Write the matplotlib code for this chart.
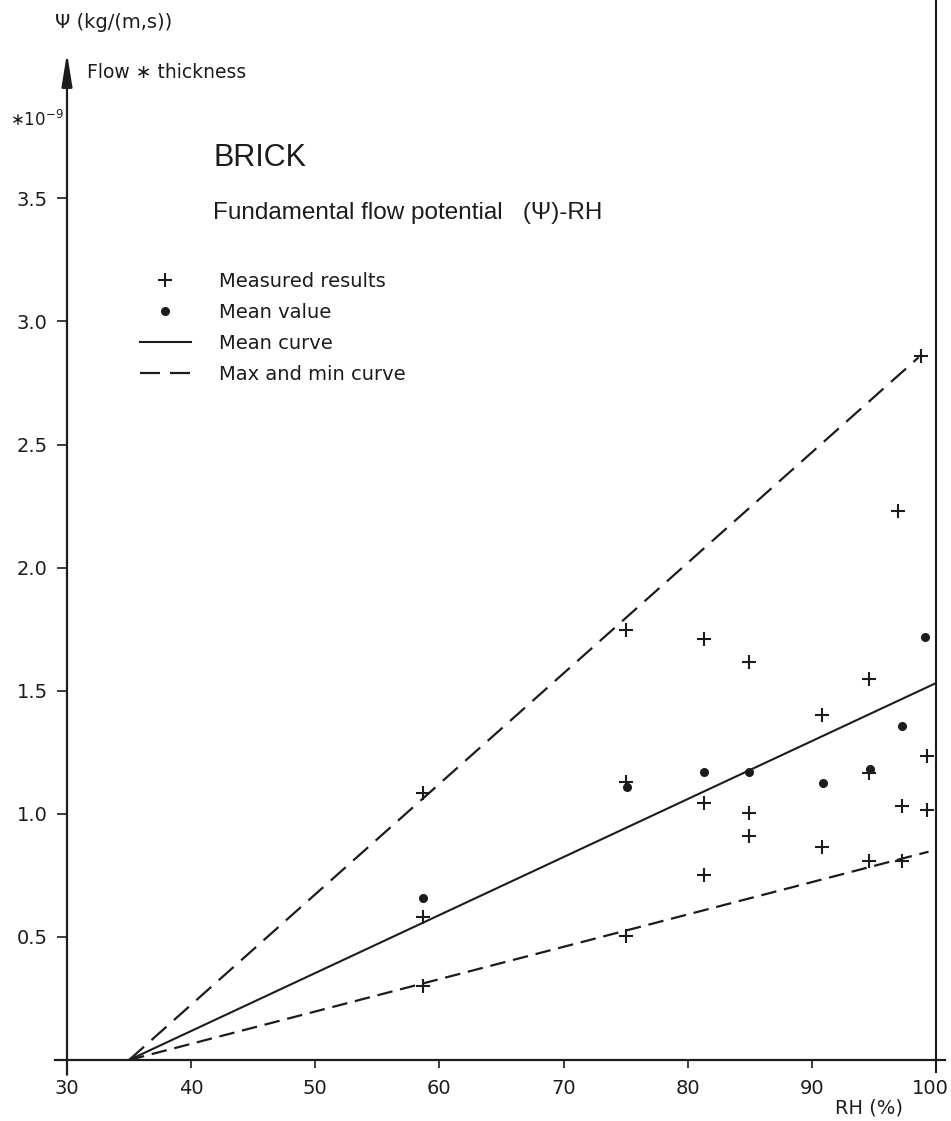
import matplotlib
matplotlib.use("Agg")
import matplotlib.pyplot as plt
from matplotlib.transforms import ScaledTranslation

# measured values (RH %, psi * 1e-9)
meas_rh = [58.7, 58.7, 58.7, 75.0, 75.0, 75.0, 81.3, 81.3, 81.3, 84.9, 84.9, 84.9,
           90.8, 90.8, 94.6, 94.6, 94.6, 96.9, 97.3, 97.3, 98.8, 99.3, 99.3]
meas_psi = [1.083, 0.582, 0.300, 1.747, 1.130, 0.505, 1.709, 1.045, 0.751, 1.615, 1.002, 0.909,
            1.401, 0.864, 1.546, 1.167, 0.808, 2.231, 1.033, 0.808, 2.860, 1.236, 1.017]

# mean values
mean_rh = [58.7, 75.1, 81.3, 84.9, 90.9, 94.7, 97.3, 99.1]
mean_psi = [0.658, 1.110, 1.170, 1.169, 1.126, 1.182, 1.358, 1.717]

# curves
mean_curve_rh = [35, 100]
mean_curve = [0, 1.531]
max_curve_rh = [35, 98.6]
max_curve = [0, 2.854]
min_curve_rh = [35, 99.4]
min_curve = [0, 0.846]

x_ticks = [30, 40, 50, 60, 70, 80, 90, 100]
y_ticks = [0.5, 1.0, 1.5, 2.0, 2.5, 3.0, 3.5]

W, H = 951, 1121
ink = "#1c1c1c"
tech = "DejaVu Sans"
helv = "Liberation Sans"

fig = plt.figure(figsize=(W / 100, H / 100), dpi=100)
fig.patch.set_facecolor("white")

x0, x1 = 67, 936
y_zero = 1060
px_per_unit = 246.2
ax = fig.add_axes([x0 / W, (H - y_zero) / H, (x1 - x0) / W, y_zero / H])
ax.set_xlim(30, 100)
ax.set_ylim(0, y_zero / px_per_unit)
for s in ax.spines.values():
    s.set_visible(False)

# max / min curves
l_max, = ax.plot(max_curve_rh, max_curve, color=ink, lw=1.6, dashes=(9, 4.5),
                 label="Max and min curve")
ax.plot(min_curve_rh, min_curve, color=ink, lw=1.6, dashes=(7, 3.5))
l_mean, = ax.plot(mean_curve_rh, mean_curve, color=ink, lw=1.5, label="Mean curve")

l_meas, = ax.plot(meas_rh, meas_psi, ls="none", marker="+", ms=10, mew=1.5,
                  color=ink, label="Measured results")
l_dot, = ax.plot(mean_rh, mean_psi, ls="none", marker="o", ms=5.5, color=ink,
                 label="Mean value")

# axes lines
ax.plot([29.0, 100.7], [0, 0], color=ink, lw=1.6, clip_on=False)
ax.plot([100, 100], [-0.05, ax.get_ylim()[1]], color=ink, lw=1.5, clip_on=False)
ax.annotate("", xy=(30, (y_zero - 53) / px_per_unit), xytext=(30, -0.06),
            xycoords="data", textcoords="data", annotation_clip=False,
            arrowprops=dict(arrowstyle="-|>,head_length=2.0,head_width=0.32",
                            color=ink, lw=1.6, shrinkA=0, shrinkB=0))

ax.set_xticks(x_ticks)
ax.set_xticklabels([str(v) for v in x_ticks], fontsize=14, family=tech, color=ink)
ax.set_yticks(y_ticks)
ax.set_yticklabels([f"{v:.1f}" for v in y_ticks], fontsize=14, family=tech, color=ink)
ax.tick_params(axis="x", direction="out", length=6, width=1.2, pad=8, colors=ink)
ax.tick_params(axis="y", direction="out", length=7, width=1.2, pad=7, colors=ink)

# keep the "100" label inside the canvas
last = ax.get_xticklabels()[-1]
last.set_transform(last.get_transform() + ScaledTranslation(-6 / 100, 0, fig.dpi_scale_trans))


def ftext(x, y, s, **kw):
    fig.text(x / W, 1 - y / H, s, **kw)


ftext(55, 22, "Ψ (kg/(m,s))", fontsize=14, family=tech, va="center", color=ink)
ftext(87, 72, "Flow ∗ thickness", fontsize=13.5, family=tech, va="center", color=ink)
ftext(10, 120, "∗10$^{-9}$", fontsize=12, family=tech, va="center", color=ink)
ftext(213, 166, "BRICK", fontsize=22, family=helv, va="baseline", color=ink)
ftext(213, 219, "Fundamental flow potential   (Ψ)-RH", fontsize=17.5, family=helv,
      va="baseline", color=ink)
ftext(835, 1108, "RH (%)", fontsize=14, family=tech, va="center", color=ink)

ax.legend(handles=[l_meas, l_dot, l_mean, l_max], loc="upper left",
          bbox_to_anchor=(140 / W, 1 - 272 / H), bbox_transform=fig.transFigure,
          frameon=False, borderpad=0, borderaxespad=0, handlelength=2.6,
          handletextpad=1.45, labelspacing=0.62,
          prop={"family": tech, "size": 14}, labelcolor=ink)

fig.savefig("out.png", dpi=100, facecolor="white")
